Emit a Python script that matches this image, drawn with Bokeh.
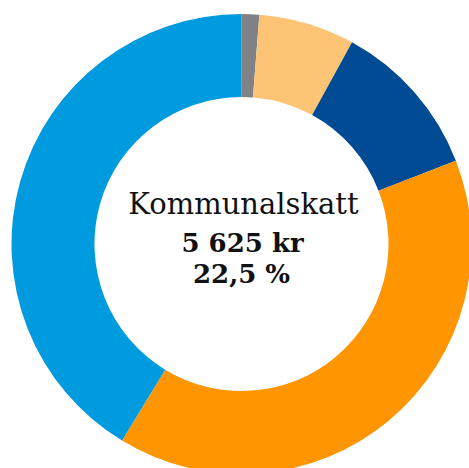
import math
from bokeh.plotting import figure
from bokeh.models import Range1d, ColumnDataSource
from bokeh.core.properties import value
from bokeh.embed import file_html
from bokeh.resources import INLINE

# Slice shares (percent), clockwise from the top
categories = ["Övrigt", "Avgift", "Statlig skatt", "Nettolön", "Kommunalskatt"]
shares = [1.24, 6.74, 11.12, 39.59, 41.31]
colors = ["#808285", "#FDC476", "#004B93", "#FF9500", "#009ADF"]

center_title = "Kommunalskatt"
center_amount = "5 625 kr"
center_pct = "22,5 %"

total = sum(shares)
starts, ends = [], []
cum = 0.0
for s in shares:
    a0 = cum / total * 2 * math.pi
    cum += s
    a1 = cum / total * 2 * math.pi
    starts.append(math.pi / 2 - a0)
    ends.append(math.pi / 2 - a1)

src = ColumnDataSource(dict(cat=categories, start=starts, end=ends, color=colors,
                            x=[0] * len(shares), y=[0] * len(shares)))

W, H = 469, 468
cx, cy = 241, 243.5
p = figure(width=W, height=H, output_backend="svg", toolbar_location=None,
           x_range=Range1d(-cx, W - cx), y_range=Range1d(-(H - cy), cy),
           min_border=0)
p.axis.visible = False
p.grid.visible = False
p.outline_line_color = None
p.background_fill_color = "white"
p.border_fill_color = "white"

p.annular_wedge(x="x", y="y", inner_radius=147, outer_radius=230,
                start_angle="start", end_angle="end", direction="clock",
                fill_color="color", line_color=None, source=src)

font = value("DejaVu Serif")
p.text(x=[2], y=[40], text=[center_title], text_align="center",
       text_baseline="alphabetic", text_font=font, text_font_size="29px",
       text_color="#111111")
p.text(x=[1], y=[1.5], text=[center_amount], text_align="center",
       text_baseline="alphabetic", text_font=font, text_font_size="26px",
       text_font_style="bold", text_color="#111111")
p.text(x=[0], y=[-30], text=[center_pct], text_align="center",
       text_baseline="alphabetic", text_font=font, text_font_size="26px",
       text_font_style="bold", text_color="#111111")

open("out.html", "w").write(file_html(p, INLINE))
